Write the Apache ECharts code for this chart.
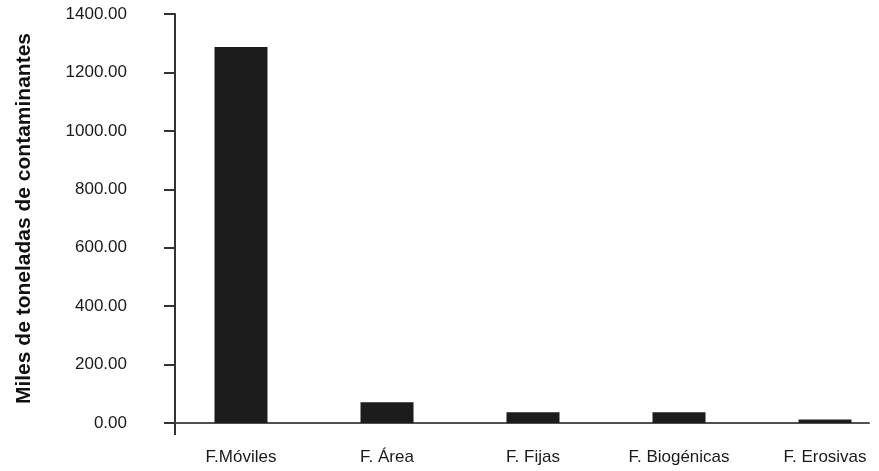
<!DOCTYPE html>
<html>
<head>
<meta charset="utf-8">
<script src="https://cdn.jsdelivr.net/npm/echarts@6/dist/echarts.min.js"></script>
<style>
    html, body { margin: 0; padding: 0; background: #fff; }
    #chart { width: 879px; height: 471px; }
</style>
</head>
<body>
<div id="chart"></div>
<script>
// datos
var categorias = ['F.Móviles', 'F. Área', 'F. Fijas', 'F. Biogénicas', 'F. Erosivas'];
var toneladas = [1287, 71, 37, 37, 12];
var yMin = 0, yMax = 1400, yPaso = 200;
var tituloY = 'Miles de toneladas de contaminantes';

var fuente = '"Liberation Sans", Arial, sans-serif';

var chart = echarts.init(document.getElementById('chart'), null, { renderer: 'canvas' });

var options = {
    animation: false,
    backgroundColor: '#fff',
    // grid 0: barras y etiquetas, grid 1: ejes visibles
    grid: [{
        left: 168,
        width: 730,
        top: 14,
        bottom: 48,
        containLabel: false,
        outerBoundsMode: 'none'
    }, {
        left: 175,
        width: 694,
        top: 14,
        bottom: 48,
        containLabel: false,
        outerBoundsMode: 'none'
    }],
    xAxis: [{
        type: 'category',
        gridIndex: 0,
        data: categorias,
        axisLine: { show: false },
        axisTick: { show: false },
        axisLabel: {
            interval: 0,
            margin: 26,
            color: '#1a1a1a',
            fontSize: 17,
            fontFamily: fuente
        }
    }, {
        type: 'category',
        gridIndex: 1,
        data: ['', ''],
        boundaryGap: false,
        axisLine: {
            show: true,
            lineStyle: { color: '#505050', width: 2 }
        },
        axisTick: {
            show: true,
            length: 12,
            interval: function (idx) {
                return idx === 0;
            },
            lineStyle: { color: '#333', width: 2 }
        },
        axisLabel: { show: false }
    }],
    yAxis: [{
        type: 'value',
        gridIndex: 0,
        min: yMin,
        max: yMax,
        show: false
    }, {
        type: 'value',
        gridIndex: 1,
        min: yMin,
        max: yMax,
        interval: yPaso,
        name: tituloY,
        nameLocation: 'middle',
        nameRotate: 90,
        nameGap: 140,
        nameTextStyle: {
            color: '#111',
            fontSize: 21,
            fontWeight: 'bold',
            fontFamily: fuente
        },
        splitLine: { show: false },
        axisLine: {
            show: true,
            lineStyle: { color: '#333', width: 2 }
        },
        axisTick: {
            show: true,
            inside: false,
            length: 11,
            lineStyle: { color: '#333', width: 2 }
        },
        axisLabel: {
            margin: 48,
            color: '#1a1a1a',
            fontSize: 17,
            fontFamily: fuente,
            formatter: function (v) {
                return v.toFixed(2);
            }
        }
    }],
    series: [{
        type: 'bar',
        xAxisIndex: 0,
        yAxisIndex: 0,
        data: toneladas,
        barWidth: 53,
        itemStyle: { color: '#1c1c1c' }
    }]
};

chart.setOption(options);
</script>
</body>
</html>
